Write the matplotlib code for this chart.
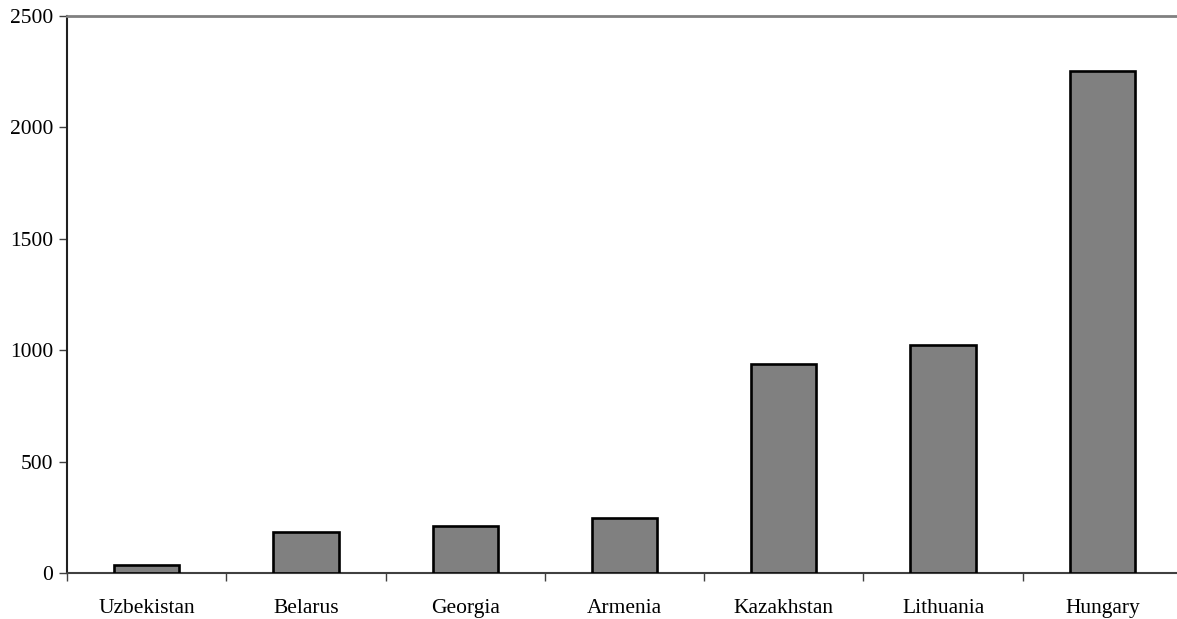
import matplotlib
matplotlib.use("Agg")
import matplotlib.pyplot as plt
import numpy as np

# data
countries = ["Uzbekistan", "Belarus", "Georgia", "Armenia", "Kazakhstan", "Lithuania", "Hungary"]
values = [35, 182, 212, 245, 938, 1025, 2255]
yticks = [0, 500, 1000, 1500, 2000, 2500]

plt.rcParams['font.family'] = ['Liberation Serif', 'DejaVu Serif']

fig = plt.figure(figsize=(11.77, 6.19), dpi=100)
ax = fig.add_axes([67/1177, 46/619, 1115/1177, 557/619])

x = np.arange(len(countries)) + 0.5
ax.bar(x, values, width=0.41, color='#808080', edgecolor='black', linewidth=1.9, zorder=3)

ax.set_xlim(0, len(countries))
ax.set_ylim(0, 2500)
ax.set_yticks(yticks)
ax.set_yticklabels([str(v) for v in yticks], fontsize=15.5)

# category labels centred, ticks between categories
ax.set_xticks(np.arange(len(countries) + 1))
ax.set_xticklabels([])
ax.set_xticks(x, minor=True)
ax.set_xticklabels(countries, minor=True, fontsize=15.5)
ax.tick_params(axis='x', which='minor', length=0, pad=19)
ax.tick_params(axis='x', which='major', length=6, width=1, direction='out', color='#404040')
ax.tick_params(axis='y', length=6, width=1, direction='out', color='#404040', pad=4)

ax.spines['right'].set_visible(False)
ax.spines['top'].set_color('#808080')
ax.spines['top'].set_linewidth(2)
ax.spines['left'].set_color('#202020')
ax.spines['left'].set_linewidth(1.5)
ax.spines['bottom'].set_color('#404040')
ax.spines['bottom'].set_linewidth(1.5)

fig.savefig("out.png", dpi=100)
